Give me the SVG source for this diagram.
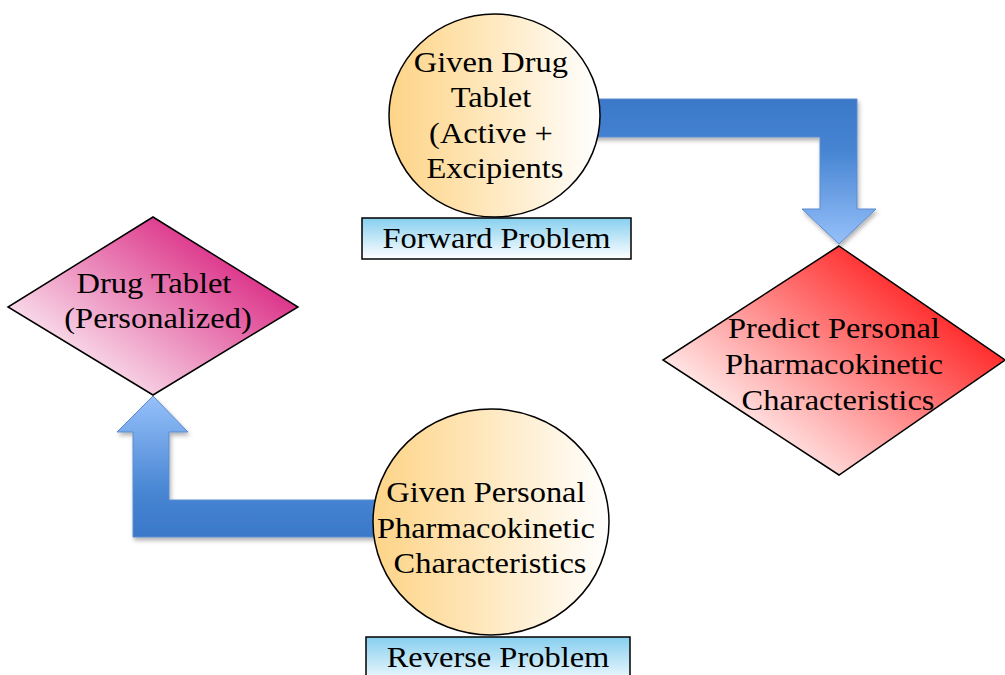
<svg xmlns="http://www.w3.org/2000/svg" width="1005" height="675" viewBox="0 0 1005 675">
  <style>
    .t { font-family: "Liberation Serif", "Times New Roman", serif; font-size: 29px; fill: #000; text-anchor: middle; }
    .edge { stroke: #000; stroke-width: 1.5; }
    .arrow { stroke: #5B8BD2; stroke-width: 1; filter: url(#shadow); }
  </style>
  <defs>
    <linearGradient id="gCircle" x1="0" y1="0" x2="1" y2="0">
      <stop offset="0" stop-color="#FDD488"/>
      <stop offset="0.3" stop-color="#FEE0A8"/>
      <stop offset="1" stop-color="#FFFFFF"/>
    </linearGradient>
    <linearGradient id="gBox" x1="0" y1="0" x2="0" y2="1">
      <stop offset="0" stop-color="#86CFEF"/>
      <stop offset="1" stop-color="#FFFFFF"/>
    </linearGradient>
    <linearGradient id="gRed" x1="0.2" y1="0.9" x2="0.95" y2="0.25">
      <stop offset="0" stop-color="#FFFFFF"/>
      <stop offset="1" stop-color="#FF1010"/>
    </linearGradient>
    <linearGradient id="gPink" x1="0.2" y1="0.9" x2="0.95" y2="0.25">
      <stop offset="0" stop-color="#FCEFF5"/>
      <stop offset="1" stop-color="#D81B7B"/>
    </linearGradient>
    <linearGradient id="gArrowDown" x1="0" y1="0" x2="0" y2="1">
      <stop offset="0" stop-color="#3B78C8"/>
      <stop offset="0.35" stop-color="#4684D2"/>
      <stop offset="1" stop-color="#96C0FA"/>
    </linearGradient>
    <linearGradient id="gArrowUp" x1="0" y1="1" x2="0" y2="0">
      <stop offset="0" stop-color="#3B78C8"/>
      <stop offset="0.3" stop-color="#4684D2"/>
      <stop offset="1" stop-color="#96C0FA"/>
    </linearGradient>
    <filter id="shadow" x="-10%" y="-10%" width="120%" height="130%">
      <feDropShadow dx="1.5" dy="3" stdDeviation="2" flood-color="#000" flood-opacity="0.3"/>
    </filter>
  </defs>

  <!-- connectors: thick bent block arrows -->
  <g id="connectors">
    <path id="forward-arrow" class="arrow" fill="url(#gArrowDown)"
          d="M 560 99 H 857 V 209 H 876 L 839 244 L 802 209 H 820 V 137 H 560 Z"/>
    <path id="reverse-arrow" class="arrow" fill="url(#gArrowUp)"
          d="M 420 500 H 169 V 432 H 188 L 153 396 L 117 432 H 133 V 537 H 420 Z"/>
  </g>

  <!-- top: given drug tablet -->
  <g id="given-drug">
    <ellipse class="edge" cx="494.5" cy="115.5" rx="105.5" ry="101.5" fill="url(#gCircle)"/>
    <text class="t" transform="translate(495 0) scale(1.12 1)">
      <tspan x="0" y="72">Given Drug</tspan>
      <tspan x="0" y="107">Tablet</tspan>
      <tspan x="0" y="143">(Active +</tspan>
      <tspan x="0" y="178">Excipients</tspan>
    </text>
  </g>

  <g id="forward-label">
    <rect class="edge" x="362" y="218" width="269" height="41" fill="url(#gBox)"/>
    <text class="t" transform="translate(496.5 0) scale(1.12 1)"><tspan x="0" y="248">Forward Problem</tspan></text>
  </g>

  <!-- right: prediction -->
  <g id="predict">
    <polygon class="edge" points="839,246 1005,360 839,475 663,360" fill="url(#gRed)"/>
    <text class="t" transform="translate(838 0) scale(1.12 1)">
      <tspan x="0" y="338">Predict Personal</tspan>
      <tspan x="0" y="374">Pharmacokinetic</tspan>
      <tspan x="0" y="410">Characteristics</tspan>
    </text>
  </g>

  <!-- left: personalised tablet -->
  <g id="drug-tablet">
    <polygon class="edge" points="153,217 298,307 153,395 8,307" fill="url(#gPink)"/>
    <text class="t" transform="translate(158 0) scale(1.12 1)">
      <tspan x="0" y="293">Drug Tablet</tspan>
      <tspan x="0" y="328">(Personalized)</tspan>
    </text>
  </g>

  <!-- bottom: given characteristics -->
  <g id="given-characteristics">
    <ellipse class="edge" cx="491" cy="522" rx="118" ry="113" fill="url(#gCircle)"/>
    <text class="t" transform="translate(490 0) scale(1.12 1)">
      <tspan x="0" y="502">Given Personal</tspan>
      <tspan x="0" y="538">Pharmacokinetic</tspan>
      <tspan x="0" y="573">Characteristics</tspan>
    </text>
  </g>

  <g id="reverse-label">
    <rect class="edge" x="366" y="637" width="264" height="50" fill="url(#gBox)"/>
    <text class="t" transform="translate(498 0) scale(1.12 1)"><tspan x="0" y="667">Reverse Problem</tspan></text>
  </g>
</svg>
